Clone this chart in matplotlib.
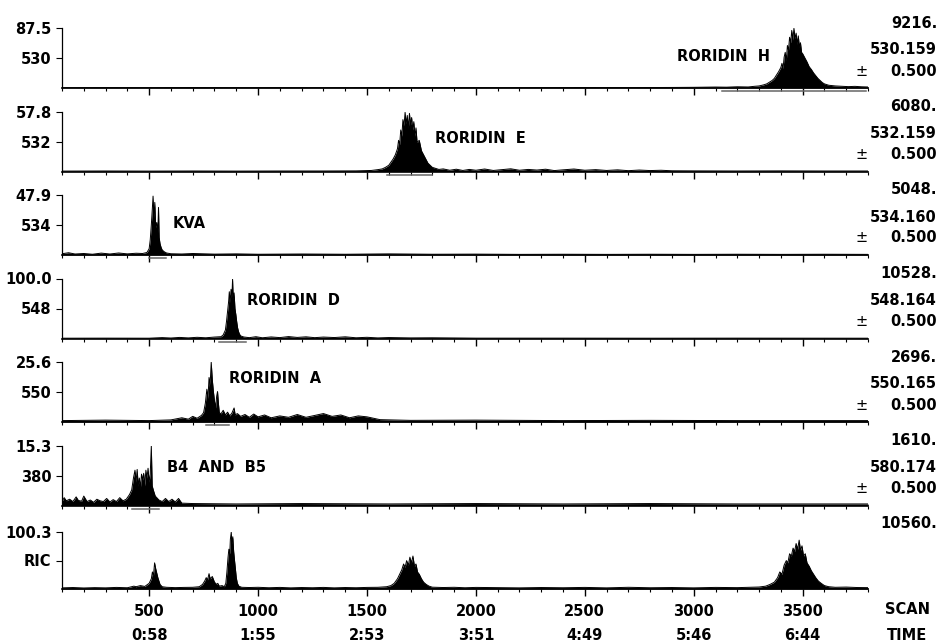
import matplotlib
matplotlib.use("Agg")
import matplotlib.pyplot as plt
from matplotlib.ticker import MultipleLocator, FixedLocator

plt.rcParams['font.family'] = ['DejaVu Sans']
plt.rcParams['font.weight'] = 'bold'

# panel data: full-scale %, mass label, total count, exact mass
full_scale = [87.5, 57.8, 47.9, 100.0, 25.6, 15.3, 100.3]
mass_label = ["530", "532", "534", "548", "550", "380", "RIC"]
count_label = ["9216.", "6080.", "5048.", "10528.", "2696.", "1610.", "10560."]
exact_mass = ["530.159", "532.159", "534.160", "548.164", "550.165", "580.174", None]
peak_names = ["RORIDIN  H", "RORIDIN  E", "KVA", "RORIDIN  D", "RORIDIN  A", "B4  AND  B5", None]

scan_ticks = [500, 1000, 1500, 2000, 2500, 3000, 3500]
time_labels = ["0:58", "1:55", "2:53", "3:51", "4:49", "5:46", "6:44"]

# (scan, intensity)
trace_530 = [(100, 0.5), (300, 0.6), (500, 0.5), (700, 0.7), (900, 0.5), (1100, 0.6), (1300, 0.5),
             (1500, 0.6), (1700, 0.5), (1900, 0.7), (2100, 0.5), (2300, 0.6), (2500, 0.7), (2700, 0.6),
             (2900, 0.8), (3000, 1.0), (3100, 1.4), (3150, 1.2), (3200, 1.8), (3250, 1.5), (3280, 2.5),
             (3300, 3), (3320, 4.5), (3335, 6), (3350, 9), (3360, 11), (3370, 14), (3380, 19), (3390, 24),
             (3400, 30), (3405, 36), (3410, 28), (3415, 45), (3420, 52), (3425, 40), (3430, 62), (3435, 55),
             (3440, 74), (3445, 66), (3450, 84), (3455, 70), (3460, 87), (3465, 72), (3470, 80), (3475, 64),
             (3480, 76), (3485, 60), (3490, 66), (3495, 52), (3500, 50), (3510, 44), (3520, 38), (3530, 31),
             (3540, 27), (3550, 22), (3560, 18), (3570, 14), (3580, 11), (3590, 8), (3600, 6), (3620, 4),
             (3650, 3), (3680, 2.5), (3710, 2), (3740, 2.4), (3770, 1.8), (3800, 1.5)]

trace_532 = [(100, 0.4), (300, 0.5), (500, 0.4), (700, 0.5), (900, 0.4), (1100, 0.5), (1300, 0.5),
             (1450, 0.6), (1520, 1.0), (1550, 1.8), (1570, 2.5), (1585, 4), (1600, 6), (1610, 9), (1620, 12),
             (1630, 16), (1640, 22), (1645, 30), (1650, 26), (1655, 40), (1660, 34), (1665, 50), (1670, 44),
             (1675, 57), (1680, 46), (1685, 54), (1690, 42), (1695, 56), (1700, 45), (1705, 52), (1710, 40),
             (1715, 48), (1720, 34), (1725, 42), (1730, 28), (1740, 30), (1750, 20), (1760, 16), (1770, 12),
             (1780, 8), (1790, 6), (1800, 4), (1815, 3), (1830, 2), (1850, 2.5), (1880, 1.2), (1910, 2.2),
             (1940, 1.0), (1970, 2.0), (2000, 1.2), (2040, 2.4), (2080, 1.0), (2120, 1.8), (2160, 2.6),
             (2200, 1.2), (2240, 2.0), (2280, 1.4), (2320, 2.2), (2360, 0.9), (2400, 1.6), (2450, 2.4),
             (2500, 1.2), (2550, 1.8), (2600, 1.0), (2650, 1.6), (2700, 0.8), (2750, 1.4), (2800, 0.9),
             (2850, 1.2), (2900, 0.7), (3000, 0.6), (3200, 0.5), (3400, 0.6), (3600, 0.5), (3800, 0.5)]

trace_534 = [(100, 1.0), (130, 1.8), (160, 0.8), (200, 1.2), (240, 0.6), (280, 1.5), (320, 0.8),
             (360, 1.6), (400, 0.9), (440, 1.4), (470, 1.2), (490, 2), (500, 5), (505, 12), (510, 24),
             (515, 38), (518, 47), (522, 30), (526, 42), (530, 22), (535, 26), (540, 18), (543, 38),
             (546, 14), (550, 9), (555, 6), (560, 4), (570, 2.5), (580, 1.6), (600, 1.0), (650, 0.8),
             (700, 1.2), (800, 0.7), (900, 0.9), (1000, 0.6), (1200, 0.8), (1400, 0.6), (1600, 0.9),
             (1800, 0.6), (2000, 0.7), (2200, 0.5), (2400, 0.6), (2600, 0.5), (2800, 0.6), (3000, 0.5),
             (3200, 0.6), (3400, 0.5), (3600, 0.6), (3800, 0.5)]

trace_548 = [(100, 0.5), (300, 0.6), (500, 0.5), (560, 1.5), (600, 0.8), (640, 1.8), (680, 1.0),
             (720, 2.0), (760, 1.2), (800, 2.4), (830, 3), (840, 6), (850, 14), (855, 28), (860, 45),
             (865, 62), (868, 78), (872, 60), (876, 82), (880, 70), (883, 99), (886, 66), (890, 76),
             (894, 50), (898, 40), (902, 28), (906, 18), (910, 12), (915, 7), (922, 4), (935, 2.5),
             (960, 1.4), (990, 3), (1020, 1.2), (1060, 2.6), (1100, 1.5), (1140, 3.2), (1180, 1.8),
             (1220, 2.8), (1260, 1.4), (1300, 2.4), (1350, 1.6), (1400, 2.8), (1450, 1.2), (1500, 2.0),
             (1550, 1.0), (1600, 1.6), (1700, 1.0), (1800, 1.2), (2000, 0.6), (2400, 0.6), (2800, 0.5),
             (3200, 0.6), (3800, 0.5)]

trace_550 = [(100, 0.6), (300, 0.8), (500, 0.6), (600, 0.9), (650, 1.8), (680, 1.2), (700, 2.4),
             (720, 1.6), (740, 2.8), (750, 4), (758, 8), (765, 14), (770, 10), (775, 19), (780, 16),
             (785, 25.5), (790, 18), (795, 13), (800, 9), (805, 6), (810, 11), (814, 13), (818, 8),
             (822, 4), (830, 3.5), (840, 5), (850, 3), (860, 4.2), (870, 2.6), (880, 3.8), (890, 6),
             (895, 3), (905, 3.6), (920, 2.4), (940, 3.2), (960, 2), (980, 3.4), (1000, 2.2), (1030, 3.0),
             (1060, 1.8), (1100, 2.6), (1140, 2.0), (1180, 3.2), (1220, 2.0), (1260, 2.8), (1300, 3.6),
             (1340, 2.4), (1380, 3.0), (1420, 1.8), (1460, 2.6), (1500, 2.2), (1530, 1.6), (1560, 1.0),
             (1700, 0.7), (2000, 0.8), (2400, 0.6), (2800, 0.7), (3200, 0.6), (3800, 0.6)]

trace_380 = [(100, 1.0), (110, 2.0), (120, 1.2), (135, 1.6), (150, 1.0), (165, 2.2), (175, 1.3),
             (190, 1.1), (200, 2.4), (215, 1.0), (230, 1.4), (245, 0.8), (260, 1.6), (275, 1.2), (290, 1.0),
             (305, 1.8), (320, 0.9), (335, 1.5), (350, 1.0), (365, 2.0), (380, 1.2), (395, 1.6), (410, 2.8),
             (420, 4), (428, 7), (435, 9), (440, 6), (445, 9.2), (450, 5), (455, 7), (460, 4.5), (465, 8),
             (470, 6.5), (475, 8.2), (480, 5), (485, 9), (490, 7), (495, 9.5), (500, 6), (505, 8),
             (510, 15.2), (514, 5), (520, 3.8), (528, 2.4), (535, 2.0), (545, 1.4), (560, 1.0), (575, 1.8),
             (590, 1.0), (605, 1.6), (620, 0.9), (635, 1.8), (650, 0.6), (700, 0.5), (900, 0.4),
             (1200, 0.5), (1600, 0.4), (2000, 0.5), (2400, 0.4), (2800, 0.5), (3200, 0.4), (3800, 0.4)]

trace_ric = [(100, 2.0), (150, 2.6), (200, 1.8), (250, 2.4), (300, 2.0), (350, 2.8), (400, 2.2),
             (430, 5), (440, 4), (460, 6), (480, 4.5), (500, 10), (510, 18), (515, 30), (520, 24),
             (525, 46), (530, 36), (535, 28), (540, 20), (545, 14), (550, 8), (560, 4), (580, 3),
             (620, 2.4), (660, 2.8), (700, 3.0), (730, 4), (745, 8), (755, 14), (762, 20), (768, 16),
             (775, 27), (780, 18), (790, 22), (800, 12), (810, 8), (815, 10), (822, 5), (835, 6), (845, 4),
             (852, 10), (857, 30), (862, 55), (866, 70), (870, 62), (873, 88), (877, 100), (880, 80),
             (884, 92), (888, 66), (892, 50), (896, 36), (900, 20), (905, 10), (912, 5), (925, 3),
             (960, 2.6), (1000, 3.0), (1050, 2.2), (1100, 2.8), (1150, 2.0), (1200, 2.6), (1250, 2.2),
             (1300, 2.8), (1350, 2.0), (1400, 2.6), (1450, 2.2), (1500, 2.8), (1550, 3.0), (1590, 4),
             (1610, 6), (1625, 10), (1640, 18), (1650, 26), (1660, 34), (1668, 44), (1675, 38), (1682, 50),
             (1690, 42), (1697, 56), (1704, 46), (1711, 58), (1718, 40), (1725, 44), (1732, 30), (1740, 26),
             (1750, 18), (1760, 12), (1772, 8), (1785, 5), (1800, 3.2), (1850, 2.6), (1900, 3.0),
             (1950, 2.2), (2000, 2.8), (2100, 2.4), (2200, 2.0), (2300, 2.6), (2400, 2.2), (2500, 2.8),
             (2600, 2.0), (2700, 3.0), (2800, 2.2), (2900, 2.6), (3000, 2.0), (3100, 2.8), (3200, 2.4),
             (3250, 3.0), (3300, 3.5), (3330, 5), (3350, 8), (3370, 12), (3385, 20), (3395, 30), (3405, 26),
             (3415, 42), (3425, 50), (3432, 46), (3440, 62), (3448, 58), (3456, 72), (3463, 66), (3470, 80),
             (3477, 70), (3484, 86), (3490, 68), (3497, 76), (3504, 58), (3512, 62), (3520, 46), (3530, 40),
             (3540, 32), (3550, 26), (3560, 20), (3572, 14), (3585, 10), (3600, 6), (3620, 4), (3650, 3.0),
             (3700, 3.4), (3750, 2.6), (3800, 2.4)]

traces = [trace_530, trace_532, trace_534, trace_548, trace_550, trace_380, trace_ric]

# integrated scan ranges (drawn under the peaks)
peak_ranges = [(3130, 3790), (1590, 1800), (500, 578), (822, 945), (762, 868), (422, 546), None]

# label anchors (scan, axes-fraction y, alignment)
label_pos = [(3349, 0.52, 'right'), (1810, 0.55, 'left'), (606, 0.53, 'left'),
             (950, 0.63, 'left'), (868, 0.73, 'left'), (583, 0.63, 'left'), None]

W, H = 941, 643
fig = plt.figure(figsize=(W / 100, H / 100), dpi=100)
baselines = [88, 171.5, 255, 338.5, 422, 505.5, 589]
heights = [60, 60, 60, 60, 60, 60, 57]
fs = 10.5
pt = 0.72  # points per pixel

for i in range(7):
    b, h = baselines[i], heights[i]
    ax = fig.add_axes([62 / W, 1 - b / H, 806 / W, h / H])
    xs = [p[0] for p in traces[i]]
    ys = [p[1] for p in traces[i]]
    ax.fill_between(xs, 0, ys, color='black', lw=0)
    ax.plot(xs, ys, color='black', lw=0.7)

    ax.set_xlim(100, 3800)
    ax.set_ylim(0, full_scale[i])
    for s in ['top', 'right']:
        ax.spines[s].set_visible(False)
    ax.spines['bottom'].set_linewidth(1.2)
    ax.spines['left'].set_linewidth(0.9)

    ax.xaxis.set_major_locator(FixedLocator(scan_ticks))
    ax.xaxis.set_minor_locator(MultipleLocator(100))
    ax.tick_params(axis='x', which='major', direction='out', length=5, width=1, pad=6, labelsize=fs)
    ax.tick_params(axis='x', which='minor', direction='out', length=2.5, width=0.8)
    if i < 6:
        ax.set_xticklabels([])
    else:
        ax.set_xticklabels([str(s) for s in scan_ticks])

    ax.set_yticks([full_scale[i] / 2, full_scale[i]])
    ax.set_yticklabels([mass_label[i], "%.1f" % full_scale[i]])
    ax.tick_params(axis='y', direction='out', length=4, width=0.8, pad=3.5, labelsize=fs)

    ax.annotate(count_label[i], xy=(1, 0), xycoords='axes fraction', xytext=(69 * pt, 65 * pt),
                textcoords='offset points', ha='right', va='center', fontsize=fs)
    if exact_mass[i]:
        ax.annotate(exact_mass[i], xy=(1, 0), xycoords='axes fraction', xytext=(69 * pt, 38 * pt),
                    textcoords='offset points', ha='right', va='center', fontsize=fs)
        ax.annotate("0.500", xy=(1, 0), xycoords='axes fraction', xytext=(69 * pt, 17 * pt),
                    textcoords='offset points', ha='right', va='center', fontsize=fs)
        ax.annotate("\u00b1", xy=(1, 0), xycoords='axes fraction', xytext=(-6 * pt, 17 * pt),
                    textcoords='offset points', ha='center', va='center', fontsize=fs,
                    fontweight='normal')

    if peak_names[i]:
        lx, ly, ha = label_pos[i]
        ax.text(lx, ly, peak_names[i], transform=ax.get_xaxis_transform(), ha=ha, va='center',
                fontsize=fs)

    if peak_ranges[i]:
        s0, s1 = peak_ranges[i]
        ax.plot([s0, s1], [-3 / h, -3 / h], transform=ax.get_xaxis_transform(), clip_on=False,
                color='0.4', lw=1.1)

    if i == 6:
        tr = ax.get_xaxis_transform()
        for s, t in zip(scan_ticks, time_labels):
            ax.annotate(t, xy=(s, 0), xycoords=tr, xytext=(0, -46 * pt), textcoords='offset points',
                        ha='center', va='center', fontsize=fs)
        ax.annotate("SCAN", xy=(1, 0), xycoords='axes fraction', xytext=(39 * pt, -20 * pt),
                    textcoords='offset points', ha='center', va='center', fontsize=fs)
        ax.annotate("TIME", xy=(1, 0), xycoords='axes fraction', xytext=(39 * pt, -46 * pt),
                    textcoords='offset points', ha='center', va='center', fontsize=fs)

fig.savefig("out.png", dpi=100)
